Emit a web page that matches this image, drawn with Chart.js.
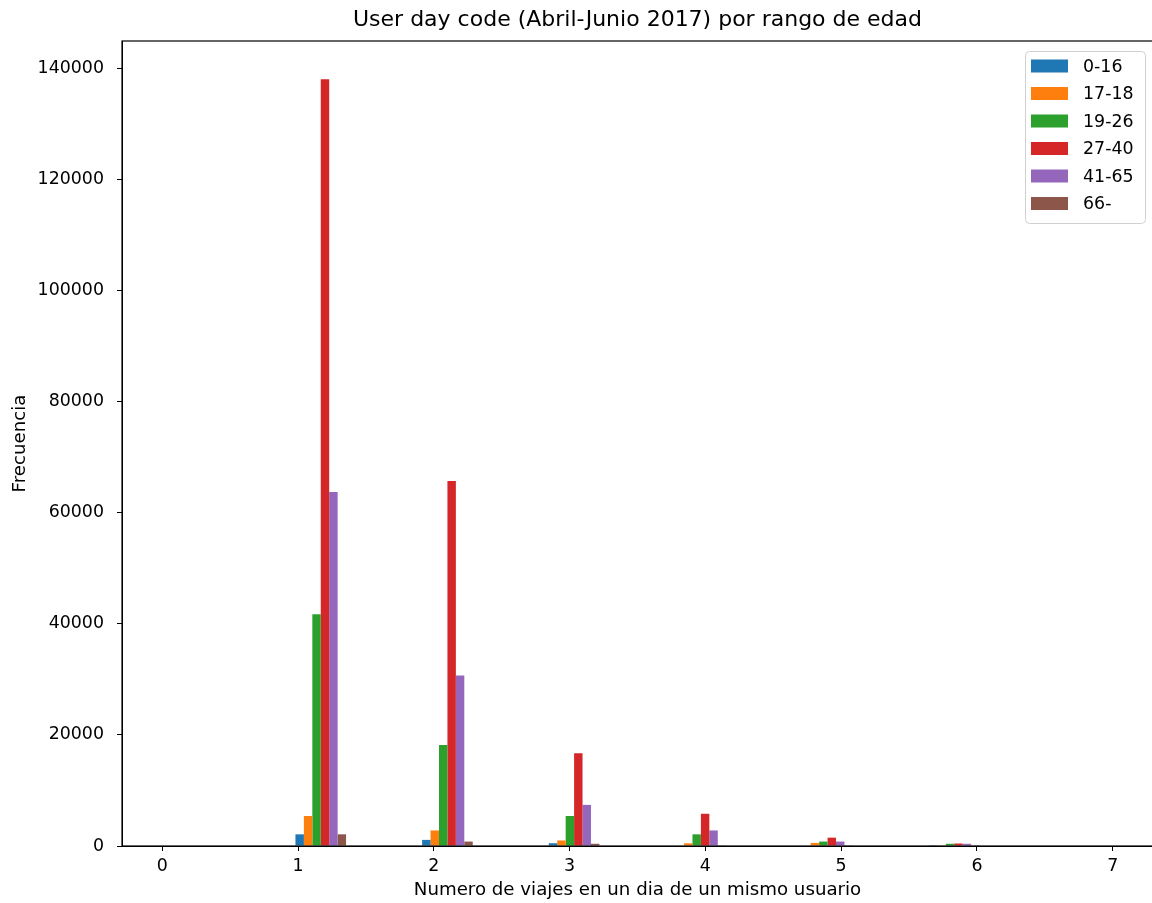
<!DOCTYPE html>
<html>
<head>
<meta charset="utf-8">
<script src="https://cdn.jsdelivr.net/npm/chart.js@4/dist/chart.umd.min.js"></script>
<style>
  html, body { margin: 0; padding: 0; background: #fff; overflow: hidden; }
  #wrap { width: 1160px; height: 903px; }
</style>
</head>
<body>
<div id="wrap"><canvas id="edad_chart" width="1160" height="903"></canvas></div>
<script>
// histogram bins (15 bins over 0..7), centers
var binCenters = [0.233, 0.7, 1.167, 1.633, 2.1, 2.567, 3.033, 3.5, 3.967, 4.433, 4.9, 5.367, 5.833, 6.3, 6.767];

var ageLabels = ['0-16', '17-18', '19-26', '27-40', '41-65', '66-'];
var ageColors = ['#1f77b4', '#ff7f0e', '#2ca02c', '#d62728', '#9467bd', '#8c564b'];

var age0_16  = [0, 0, 2100,   0, 1100,  0, 500,   0, 100,  0, 80,   0, 30,  0, 0];
var age17_18 = [0, 0, 5400,   0, 2800,  0, 1000,  0, 480,  0, 550,  0, 60,  0, 0];
var age19_26 = [0, 0, 41700,  0, 18200, 0, 5400,  0, 2100, 0, 800,  0, 400, 0, 0];
var age27_40 = [0, 0, 138000, 0, 65700, 0, 16700, 0, 5800, 0, 1500, 0, 450, 0, 0];
var age41_65 = [0, 0, 63700,  0, 30700, 0, 7400,  0, 2800, 0, 800,  0, 400, 0, 0];
var age66    = [0, 0, 2100,   0, 800,   0, 400,   0, 120,  0, 50,   0, 30,  0, 0];

var series = [age0_16, age17_18, age19_26, age27_40, age41_65, age66];

var yTicks = [0, 20000, 40000, 60000, 80000, 100000, 120000, 140000];
var xTicks = [0, 1, 2, 3, 4, 5, 6, 7];

var fontFam = "'DejaVu Sans', sans-serif";

const datasets = series.map(function(vals, i){
    return {
        label: ageLabels[i],
        data: vals.map(function(v, j){ return {x: binCenters[j], y: v}; }),
        backgroundColor: ageColors[i],
        borderWidth: 0,
        categoryPercentage: 0.8,
        barPercentage: 1.0
    };
});

// frame round the plot area, and title centred over the plot area
const framePlugin = {
    id: 'frame',
    afterLayout: function(chart){
        if (chart.titleBlock) {
            chart.titleBlock.left = chart.chartArea.left;
            chart.titleBlock.right = chart.chartArea.right;
        }
    },
    afterDatasetsDraw: function(chart){
        const a = chart.chartArea, ctx = chart.ctx;
        ctx.save();
        ctx.strokeStyle = '#000';
        ctx.lineWidth = 1.2;
        ctx.strokeRect(a.left, a.top, a.right - a.left, a.bottom - a.top);
        ctx.restore();
    }
};

// legend box in the upper right corner, like matplotlib
const boxLegend = {
    id: 'boxLegend',
    afterDraw: function(chart){
        const ctx = chart.ctx;
        const x = 1025, y = 51, w = 120, h = 172;
        ctx.save();
        ctx.fillStyle = 'rgba(255,255,255,0.8)';
        ctx.strokeStyle = '#d0d0d0';
        ctx.lineWidth = 1;
        ctx.beginPath();
        ctx.roundRect(x + 0.5, y + 0.5, w, h, 4);
        ctx.fill();
        ctx.stroke();
        ctx.font = "17.4px " + fontFam;
        ctx.textBaseline = 'middle';
        ageLabels.forEach(function(lab, i){
            const cy = 66 + i * 27.5;
            ctx.fillStyle = ageColors[i];
            ctx.fillRect(1031, cy - 6.5, 37, 13);
            ctx.fillStyle = '#000';
            ctx.fillText(lab, 1083, cy + 1);
        });
        ctx.restore();
    }
};

const config_edad = {
    type: 'bar',
    data: { datasets: datasets },
    options: {
        responsive: false,
        animation: false,
        layout: { padding: { left: 0, right: 7, top: 0, bottom: 0 } },
        plugins: {
            legend: { display: false },
            tooltip: { enabled: false },
            title: {
                display: true,
                text: 'User day code (Abril-Junio 2017) por rango de edad',
                color: '#000',
                font: { family: fontFam, size: 22, weight: 'normal' },
                padding: { top: 7, bottom: 7.6 }
            }
        },
        scales: {
            x: {
                type: 'linear',
                min: -0.297,
                max: 7.297,
                offset: false,
                border: { display: true, color: '#000', width: 1 },
                grid: { display: true, drawOnChartArea: false, drawTicks: true, tickLength: 5, color: '#000', offset: false },
                afterBuildTicks: function(s){ s.ticks = xTicks.map(function(v){ return {value: v}; }); },
                ticks: {
                    color: '#000',
                    font: { family: fontFam, size: 17.4 },
                    padding: 5,
                    maxRotation: 0,
                    autoSkip: false,
                    callback: function(v){ return String(v); }
                },
                title: {
                    display: true,
                    text: 'Numero de viajes en un dia de un mismo usuario',
                    color: '#000',
                    font: { family: fontFam, size: 18.2 },
                    padding: { top: 0, bottom: 2 }
                },
                afterFit: function(s){ s.height = 57; }
            },
            y: {
                min: 0,
                max: 144900,
                border: { display: true, color: '#000', width: 1 },
                grid: { display: true, drawOnChartArea: false, drawTicks: true, tickLength: 5, color: '#000' },
                afterBuildTicks: function(s){ s.ticks = yTicks.map(function(v){ return {value: v}; }); },
                ticks: {
                    color: '#000',
                    font: { family: fontFam, size: 17.4 },
                    padding: 13,
                    callback: function(v){ return String(v); }
                },
                title: {
                    display: true,
                    text: 'Frecuencia',
                    color: '#000',
                    font: { family: fontFam, size: 18.2 },
                    padding: { top: 9, bottom: 0 }
                },
                afterFit: function(s){ s.width = 122; }
            }
        }
    },
    plugins: [framePlugin, boxLegend]
};

const edad_chart = new Chart(
    document.getElementById('edad_chart'),
    config_edad
);
</script>
</body>
</html>
